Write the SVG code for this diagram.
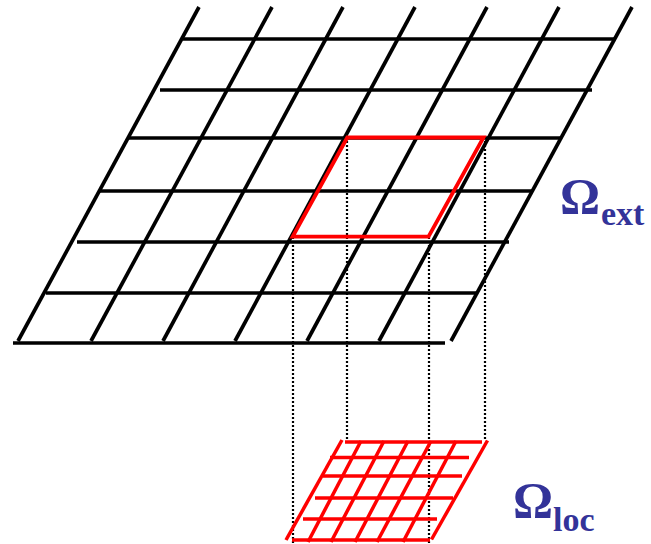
<svg xmlns="http://www.w3.org/2000/svg" width="651" height="544" viewBox="0 0 651 544">
<style>
.bk{stroke:#000;stroke-width:3.7;fill:none;stroke-linecap:butt}
.rd{stroke:#ff0000;stroke-width:3.8;fill:none;stroke-linecap:butt;stroke-linejoin:miter}
.rs{stroke:#ff0000;stroke-width:3.5;fill:none;stroke-linecap:butt}
.dot{stroke:#000;stroke-width:2.2;stroke-dasharray:2 2;fill:none}
.lbl{font-family:"Liberation Serif","Times New Roman",serif;font-weight:bold;fill:#333399}
</style>
<rect width="651" height="544" fill="#fff"/>
<g id="omega-ext-grid">
<line class="bk" x1="183" y1="39" x2="614" y2="39"/>
<line class="bk" x1="160" y1="90" x2="592" y2="90"/>
<line class="bk" x1="128" y1="138" x2="560" y2="138"/>
<line class="bk" x1="100" y1="191" x2="532" y2="191"/>
<line class="bk" x1="77" y1="242" x2="509" y2="242"/>
<line class="bk" x1="46" y1="293" x2="477" y2="293"/>
<line class="bk" x1="13" y1="343" x2="445" y2="343"/>
<line class="bk" x1="199" y1="7" x2="18" y2="341"/>
<line class="bk" x1="272" y1="7" x2="91" y2="341"/>
<line class="bk" x1="343" y1="7" x2="163" y2="341"/>
<line class="bk" x1="415" y1="7" x2="235" y2="341"/>
<line class="bk" x1="487" y1="7" x2="307" y2="341"/>
<line class="bk" x1="559" y1="7" x2="379" y2="341"/>
<line class="bk" x1="632" y1="7" x2="451" y2="341"/>
</g>
<g id="connectors">
<line class="dot" x1="293" y1="237" x2="293" y2="544"/>
<line class="dot" x1="347" y1="137" x2="347" y2="439"/>
<line class="dot" x1="429" y1="237" x2="429" y2="544"/>
<line class="dot" x1="485" y1="137" x2="485" y2="439"/>
</g>
<g id="red-cell">
<polygon class="rd" points="347.3,137.5 483.5,137.5 428.5,236.7 292.7,236.7"/>
</g>
<g id="omega-loc-grid">
<line class="rs" x1="345" y1="442" x2="482" y2="442"/>
<line class="rs" x1="330" y1="457.5" x2="469" y2="457.5"/>
<line class="rs" x1="323" y1="476" x2="462" y2="476"/>
<line class="rs" x1="315" y1="498" x2="453" y2="498"/>
<line class="rs" x1="303" y1="519" x2="437" y2="519"/>
<line class="rs" x1="292" y1="540" x2="430" y2="540"/>
<line class="rs" x1="342" y1="440" x2="286" y2="540"/>
<line class="rs" x1="361" y1="441" x2="308" y2="542"/>
<line class="rs" x1="384" y1="441" x2="331" y2="542"/>
<line class="rs" x1="408" y1="441" x2="355" y2="542"/>
<line class="rs" x1="431" y1="441" x2="377" y2="542"/>
<line class="rs" x1="456" y1="441" x2="403" y2="542"/>
<line class="rs" x1="487.5" y1="440.5" x2="431.5" y2="539.5"/>
</g>
<g id="label-ext">
<text class="lbl" x="560" y="213" font-size="50">Ω</text>
<text class="lbl" x="601" y="225" font-size="34">ext</text>
</g>
<g id="label-loc">
<text class="lbl" x="513" y="517" font-size="50">Ω</text>
<text class="lbl" x="553" y="531" font-size="34">loc</text>
</g>
</svg>
